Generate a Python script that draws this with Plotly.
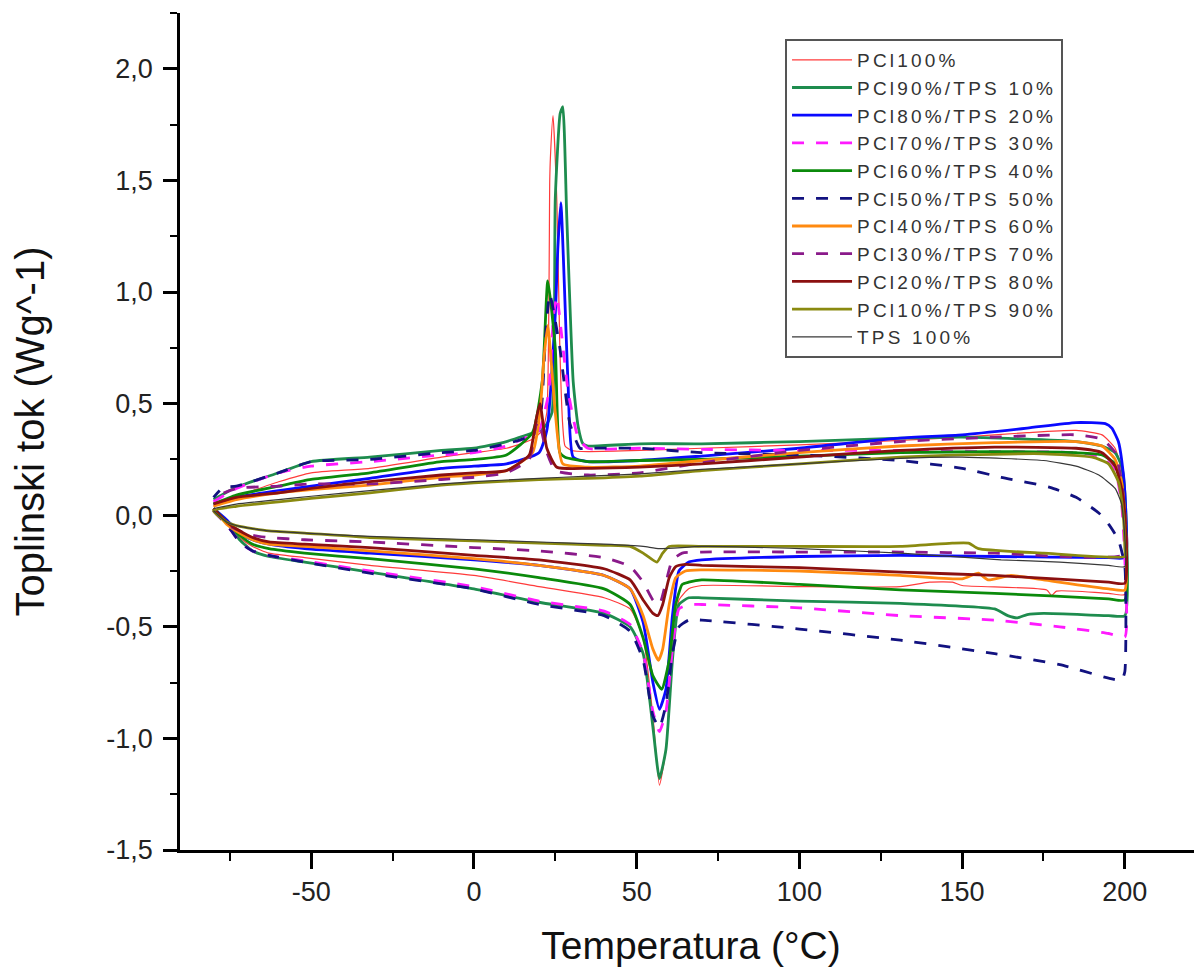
import plotly.graph_objects as go

# DSC loops: lower branch (-80 -> 200 degC), then upper branch (200 -> -80 degC)
names = ["PCl100%", "PCl90%/TPS 10%", "PCl80%/TPS 20%", "PCl70%/TPS 30%",
         "PCl60%/TPS 40%", "PCl50%/TPS 50%", "PCl40%/TPS 60%", "PCl30%/TPS 70%",
         "PCl20%/TPS 80%", "PCl10%/TPS 90%", "TPS 100%"]

x_ticks = [-50, 0, 50, 100, 150, 200]
x_labels = ["-50", "0", "50", "100", "150", "200"]
y_ticks = [-1.5, -1.0, -0.5, 0.0, 0.5, 1.0, 1.5, 2.0]
y_labels = ["-1,5", "-1,0", "-0,5", "0,0", "0,5", "1,0", "1,5", "2,0"]

pcl100_t = [-80, -76, -72, -68, -63, -52, -32, 0, 20, 40, 48, 52, 55, 57, 59, 61, 63, 66, 70, 100, 131, 140, 147, 150,
            176, 177.5, 179, 195, 200,
            200, 199, 197, 193, 185, 170, 150, 131, 100, 70, 51, 35, 30, 28, 27.3, 26.4, 25.5, 24.3, 23.5, 23.3, 22.4,
            21, 18, 10, 0, -10, -32, -50, -60, -70, -76, -80]
pcl100_q = [0.03, -0.03, -0.10, -0.14, -0.17, -0.19, -0.225, -0.27, -0.32, -0.37, -0.42, -0.55, -0.9, -1.21, -1.05,
            -0.6, -0.38, -0.33, -0.315, -0.32, -0.32, -0.30, -0.30, -0.315, -0.335, -0.36, -0.34, -0.35, -0.355,
            0.05, 0.2, 0.3, 0.36, 0.38, 0.37, 0.35, 0.335, 0.315, 0.30, 0.29, 0.285, 0.29, 0.31, 0.40, 0.75, 1.4,
            1.79, 1.6, 1.5, 0.46, 0.38, 0.34, 0.30, 0.28, 0.26, 0.21, 0.19, 0.15, 0.10, 0.07, 0.04]

pcl90_t = [-80, -76, -72, -68, -63, -52, -32, 0, 20, 40, 48, 52, 55, 57, 59, 61, 63, 66, 70, 100, 131, 160, 164, 167,
           170, 175, 195, 200,
           200, 199, 197, 193, 185, 150, 131, 100, 70, 51, 35, 33.5, 32, 30.5, 28.5, 27.3, 26.5, 25, 24, 22, 20, 10,
           0, -10, -32, -50, -60, -73, -80]
pcl90_q = [0.03, -0.03, -0.11, -0.16, -0.185, -0.21, -0.255, -0.33, -0.39, -0.44, -0.50, -0.62, -0.95, -1.18, -1.05,
           -0.65, -0.40, -0.37, -0.37, -0.385, -0.395, -0.42, -0.45, -0.46, -0.445, -0.44, -0.45, -0.45,
           0.1, 0.22, 0.28, 0.31, 0.33, 0.35, 0.345, 0.33, 0.32, 0.32, 0.31, 0.32, 0.40, 0.6, 1.35, 1.83, 1.8, 1.42,
           0.46, 0.40, 0.38, 0.33, 0.30, 0.29, 0.26, 0.24, 0.19, 0.125, 0.07]

pcl80_t = [-80, -76, -72, -68, -63, -52, -32, 0, 20, 40, 48, 52, 55, 57, 59, 61, 63, 66, 70, 100, 131, 160, 195, 200,
           200, 199, 198, 196, 194, 185, 170, 150, 131, 100, 70, 51, 35, 30.5, 28.9, 26.7, 25.8, 25, 22.4, 20, 10, 0,
           -10, -32, -50, -60, -73, -80]
pcl80_q = [0.03, -0.02, -0.08, -0.11, -0.13, -0.15, -0.17, -0.20, -0.225, -0.27, -0.33, -0.48, -0.75, -0.87, -0.78,
           -0.45, -0.25, -0.21, -0.20, -0.185, -0.18, -0.185, -0.19, -0.19,
           0.1, 0.25, 0.33, 0.39, 0.41, 0.415, 0.39, 0.36, 0.345, 0.30, 0.265, 0.245, 0.24, 0.26, 0.6, 1.40, 1.2,
           0.9, 0.38, 0.28, 0.23, 0.22, 0.21, 0.165, 0.13, 0.11, 0.08, 0.05]

pcl70_t = [-80, -76, -72, -68, -63, -52, -32, 0, 20, 40, 48, 52, 55, 57, 59, 61, 63, 66, 70, 100, 131, 160, 180, 195,
           200,
           200, 199, 197, 193, 185, 160, 131, 100, 70, 51, 35, 32, 29, 27, 25.5, 24.5, 23, 21, 20, 10, 0, -10, -32,
           -50, -60, -73, -80]
pcl70_q = [0.02, -0.04, -0.12, -0.16, -0.18, -0.205, -0.25, -0.32, -0.385, -0.43, -0.49, -0.62, -0.88, -0.97, -0.88,
           -0.6, -0.42, -0.40, -0.40, -0.415, -0.45, -0.47, -0.50, -0.53, -0.545,
           -0.2, 0.05, 0.2, 0.26, 0.28, 0.285, 0.29, 0.29, 0.295, 0.30, 0.30, 0.35, 0.55, 0.8, 0.98, 0.9, 0.55,
           0.42, 0.38, 0.31, 0.28, 0.27, 0.24, 0.22, 0.19, 0.12, 0.06]

pcl60_t = [-80, -76, -72, -68, -63, -52, -32, 0, 20, 40, 48, 52, 55, 57.7, 60, 62, 64, 66, 70, 100, 131, 160, 195, 200,
           200, 199, 197, 193, 185, 160, 131, 100, 70, 51, 35, 28, 26.4, 25, 22.7, 21, 18, 10, 0, -10, -32, -50,
           -60, -73, -80]
pcl60_q = [0.03, -0.03, -0.09, -0.13, -0.15, -0.17, -0.195, -0.24, -0.28, -0.33, -0.40, -0.55, -0.72, -0.78, -0.65,
           -0.40, -0.31, -0.30, -0.29, -0.31, -0.335, -0.35, -0.375, -0.38,
           0.0, 0.15, 0.23, 0.27, 0.28, 0.285, 0.28, 0.265, 0.25, 0.245, 0.24, 0.26, 0.28, 0.75, 1.05, 0.6, 0.37,
           0.27, 0.25, 0.24, 0.19, 0.16, 0.13, 0.09, 0.05]

pcl50_t = [-80, -76, -72, -68, -63, -52, -32, 0, 20, 40, 48, 52, 55, 57, 59, 61, 63, 66, 70, 100, 131, 160, 180, 195,
           199, 200,
           200, 198, 195, 192, 185, 177, 162, 150, 131, 100, 70, 51, 35, 32.6, 29.5, 26.4, 23.3, 22, 20.5, 18, 10,
           0, -10, -32, -50, -60, -73, -77, -80]
pcl50_q = [0.02, -0.04, -0.12, -0.16, -0.18, -0.21, -0.26, -0.33, -0.40, -0.45, -0.52, -0.65, -0.90, -0.95, -0.85,
           -0.62, -0.50, -0.47, -0.47, -0.51, -0.56, -0.62, -0.67, -0.73, -0.74, -0.70,
           -0.23, -0.11, -0.04, 0.01, 0.08, 0.125, 0.17, 0.21, 0.245, 0.27, 0.28, 0.30, 0.30, 0.30, 0.41, 0.75,
           0.99, 0.8, 0.45, 0.36, 0.32, 0.29, 0.28, 0.25, 0.24, 0.19, 0.13, 0.125, 0.08]

pcl40_t = [-80, -76, -72, -68, -63, -52, -32, 0, 20, 40, 48, 52, 55, 56.7, 58, 60, 62, 65, 70, 100, 131, 150, 155, 158,
           165, 175, 195, 200,
           200, 199, 197, 193, 185, 160, 131, 100, 70, 51, 35, 27.3, 25, 22.7, 21.5, 20.3, 18, 10, 0, -10, -32, -50,
           -60, -73, -80]
pcl40_q = [0.03, -0.04, -0.08, -0.11, -0.13, -0.14, -0.16, -0.195, -0.225, -0.27, -0.33, -0.45, -0.60, -0.65, -0.60,
           -0.40, -0.28, -0.25, -0.245, -0.25, -0.27, -0.285, -0.26, -0.29, -0.27, -0.29, -0.33, -0.335,
           0.0, 0.15, 0.25, 0.31, 0.33, 0.325, 0.31, 0.28, 0.245, 0.22, 0.215, 0.23, 0.46, 0.85, 0.7, 0.46, 0.28,
           0.20, 0.18, 0.17, 0.135, 0.115, 0.10, 0.07, 0.04]

pcl30_t = [-80, -76, -72, -68, -63, -52, -32, 0, 20, 40, 48, 52, 55, 57, 59, 61, 64, 70, 100, 131, 160, 200,
           200, 199, 197, 193, 185, 160, 131, 100, 70, 51, 35, 25, 22, 20, 19, 17, 10, 0, -10, -32, -50, -60, -73,
           -80]
pcl30_q = [0.02, -0.04, -0.07, -0.09, -0.10, -0.11, -0.12, -0.145, -0.16, -0.19, -0.23, -0.30, -0.38, -0.40, -0.30,
           -0.20, -0.17, -0.165, -0.165, -0.165, -0.17, -0.175,
           0.0, 0.15, 0.28, 0.34, 0.36, 0.35, 0.33, 0.29, 0.235, 0.19, 0.18, 0.20, 0.30, 0.42, 0.40, 0.25, 0.19,
           0.17, 0.16, 0.14, 0.14, 0.13, 0.12, 0.08]

pcl20_t = [-80, -76, -72, -68, -63, -52, -32, 0, 20, 40, 48, 52, 55, 56.5, 58, 60, 62, 65, 70, 100, 131, 160, 195, 200,
           200, 199, 197, 193, 185, 160, 131, 100, 70, 51, 35, 25.5, 22.4, 20.3, 19, 17, 10, 0, -10, -32, -50, -60,
           -73, -80]
pcl20_q = [0.03, -0.03, -0.07, -0.10, -0.12, -0.13, -0.145, -0.18, -0.20, -0.24, -0.29, -0.38, -0.44, -0.45, -0.40,
           -0.28, -0.23, -0.22, -0.225, -0.235, -0.255, -0.27, -0.30, -0.305,
           0.0, 0.12, 0.22, 0.28, 0.30, 0.305, 0.29, 0.26, 0.23, 0.215, 0.21, 0.215, 0.30, 0.50, 0.42, 0.27, 0.20,
           0.19, 0.18, 0.15, 0.12, 0.10, 0.08, 0.05]

pcl10_t = [-80, -76, -72, -68, -63, -52, -32, 0, 20, 40, 48, 52, 56.2, 58, 60, 70, 100, 131, 147, 152, 155, 175, 200,
           200, 199.5, 198, 195, 190, 175, 150, 131, 100, 70, 51, 35, 20, 0, -10, -32, -50, -60, -73, -80]
pcl10_q = [0.02, -0.03, -0.05, -0.06, -0.07, -0.08, -0.10, -0.115, -0.125, -0.135, -0.14, -0.17, -0.21, -0.17,
           -0.14, -0.14, -0.14, -0.14, -0.125, -0.125, -0.15, -0.17, -0.185,
           -0.15, 0.0, 0.15, 0.23, 0.26, 0.275, 0.27, 0.26, 0.23, 0.20, 0.175, 0.165, 0.16, 0.145, 0.135, 0.10,
           0.075, 0.06, 0.04, 0.02]

tps100_t = [-80, -76, -72, -68, -63, -52, -32, 0, 20, 40, 52, 57, 70, 100, 131, 162, 180, 195, 200,
            200, 199, 197, 192, 185, 175, 150, 131, 100, 70, 51, 35, 20, 0, -10, -32, -50, -60, -73, -80]
tps100_q = [0.02, -0.03, -0.05, -0.06, -0.07, -0.08, -0.095, -0.11, -0.12, -0.13, -0.14, -0.15, -0.14, -0.15, -0.17,
            -0.20, -0.21, -0.225, -0.23,
            -0.1, 0.05, 0.12, 0.18, 0.22, 0.245, 0.26, 0.255, 0.23, 0.205, 0.185, 0.175, 0.165, 0.15, 0.14, 0.11,
            0.085, 0.07, 0.05, 0.03]

temps = [pcl100_t, pcl90_t, pcl80_t, pcl70_t, pcl60_t, pcl50_t, pcl40_t, pcl30_t, pcl20_t, pcl10_t, tps100_t]
flows = [pcl100_q, pcl90_q, pcl80_q, pcl70_q, pcl60_q, pcl50_q, pcl40_q, pcl30_q, pcl20_q, pcl10_q, tps100_q]

colors = ["#ff3b3b", "#1e8c4e", "#0a0aff", "#ff1aff", "#0b8a0b", "#121280", "#ff8a10", "#8a1a8a",
          "#8b1010", "#8a8a10", "#383838"]
widths = [1.2, 2.8, 2.8, 2.8, 2.8, 2.8, 2.8, 2.8, 2.8, 2.8, 1.2]
dashes = ["solid", "solid", "solid", "12px,12px", "solid", "12px,12px", "solid", "12px,12px",
          "solid", "solid", "solid"]

fig = go.Figure()
for name, t, q, c, w, d in zip(names, temps, flows, colors, widths, dashes):
    fig.add_trace(go.Scatter(
        x=t, y=q, mode="lines", name='<span style="letter-spacing:3.2px">' + name + "</span>",
        line=dict(color=c, width=w, dash=d, shape="spline", smoothing=0.5)))

font_fam = "Liberation Sans, Arial, sans-serif"
# the page body adds an 8px offset, so the figure is 8px smaller than the window
fig.update_layout(
    width=1194, height=962,
    paper_bgcolor="white", plot_bgcolor="white",
    margin=dict(l=172, r=0, t=5, b=120),
    showlegend=True,
    legend=dict(x=0.592, y=0.969, xanchor="left", yanchor="top",
                bordercolor="#555", borderwidth=2, bgcolor="white",
                font=dict(family=font_fam, size=19, color="#333"),
                itemwidth=60, tracegroupgap=0),
    xaxis=dict(range=[-90.3, 223.7], tickmode="array", tickvals=x_ticks, ticktext=x_labels,
               showgrid=False, zeroline=False, automargin=False,
               showline=True, linecolor="black", linewidth=2.5,
               ticks="outside", ticklen=16, tickwidth=2.5, tickcolor="black",
               minor=dict(dtick=25, tick0=0, ticks="outside", ticklen=8, tickwidth=2, tickcolor="black"),
               tickfont=dict(family=font_fam, size=27, color="#222"),
               title=dict(text="Temperatura (°C)", standoff=26,
                          font=dict(family=font_fam, size=39, color="#111"))),
    yaxis=dict(range=[-1.5, 2.25], tickmode="array", tickvals=y_ticks, ticktext=y_labels,
               showgrid=False, zeroline=False, automargin=False,
               showline=True, linecolor="black", linewidth=2.5,
               ticks="outside", ticklen=14, tickwidth=2.5, tickcolor="black", ticklabelstandoff=5,
               minor=dict(dtick=0.25, tick0=0, ticks="outside", ticklen=7, tickwidth=2, tickcolor="black"),
               tickfont=dict(family=font_fam, size=27, color="#222"),
               title=dict(text="Toplinski tok (Wg^-1)", standoff=52,
                          font=dict(family=font_fam, size=40, color="#111"))),
)

fig.write_html("out.html")
